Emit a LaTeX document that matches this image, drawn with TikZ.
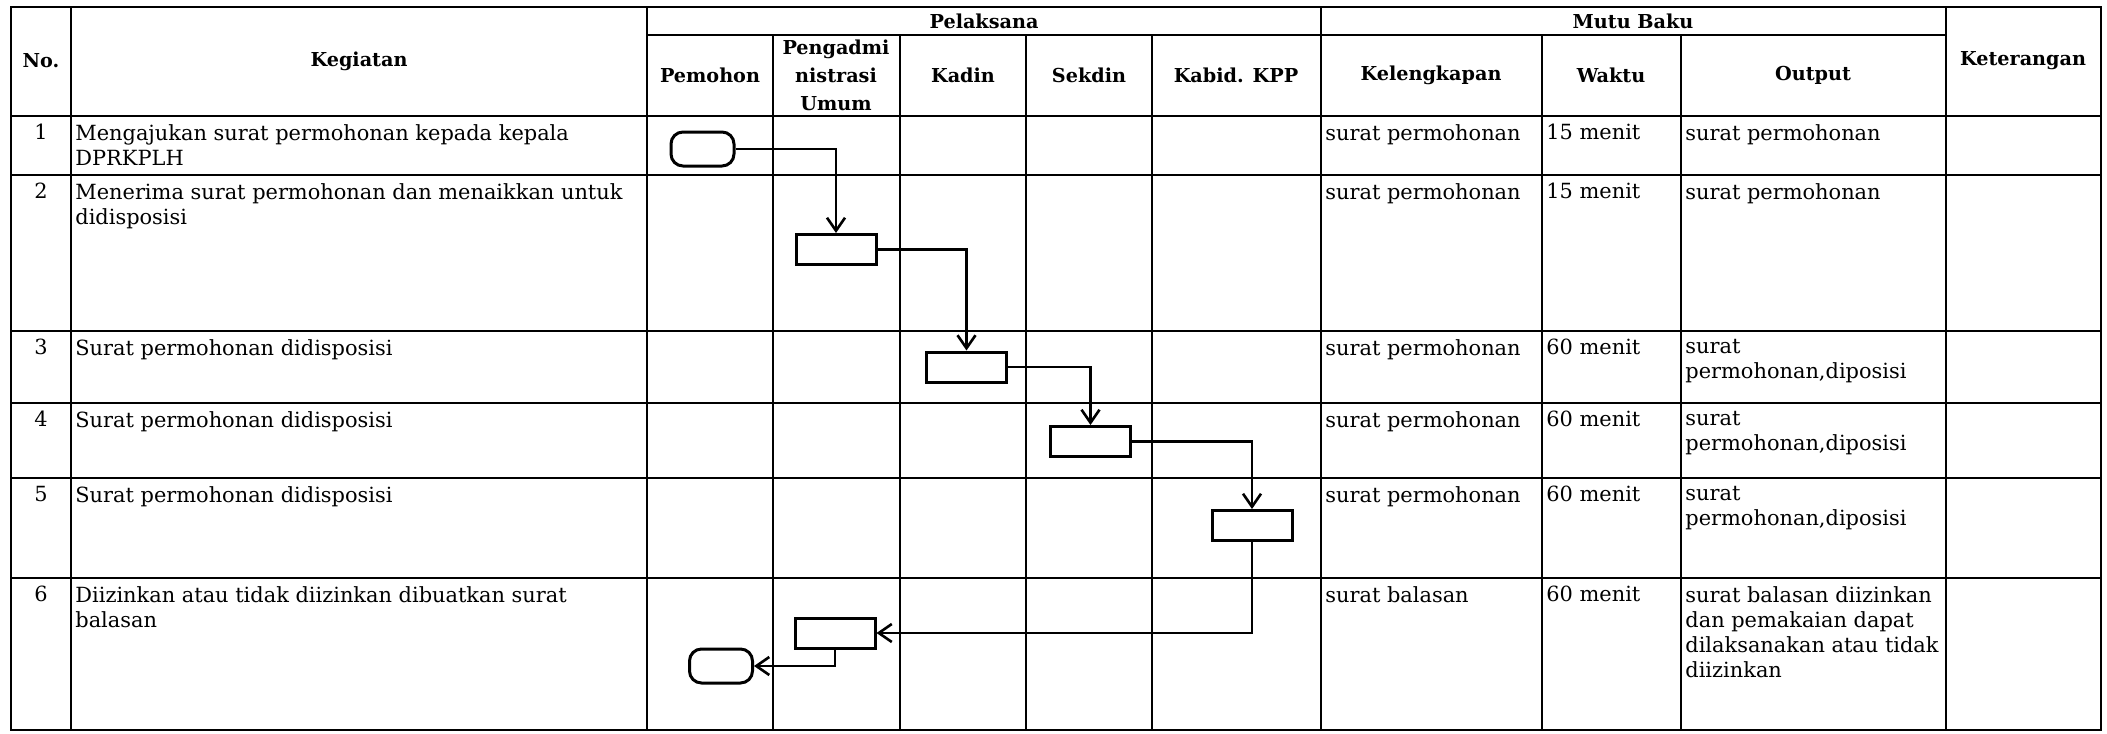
\documentclass[tikz,border=0pt]{standalone}
\usepackage{fontspec}
\setmainfont{DejaVu Serif}
\usetikzlibrary{arrows.meta}
\begin{document}
\begin{tikzpicture}[x=0.5pt,y=-0.5pt,
  grid/.style={line width=1.1pt},
  hd/.style={font=\bfseries\fontsize{9.6}{14}\selectfont, align=center, inner sep=0pt},
  tx/.style={font=\fontsize{10.45}{12.5}\selectfont, align=left, anchor=north west, inner sep=0pt},
  num/.style={font=\fontsize{10.45}{12.5}\selectfont, anchor=north, inner sep=0pt},
  proc/.style={draw, line width=1.5pt, minimum width=40pt, minimum height=15pt, inner sep=0pt},
  term/.style={draw, line width=1.5pt, rounded corners=6pt, minimum width=31.5pt, minimum height=17pt, inner sep=0pt},
  conn/.style={line width=1.3pt, -{Straight Barb[length=6.5pt,width=9pt]}}
]
\useasboundingbox (0,0) rectangle (2107,733);
\fill[white] (0,0) rectangle (2107,733);

% ---------- table grid ----------
\draw[grid] (11,7) rectangle (2101,730);
\draw[grid] (647,35) -- (1946,35);
\foreach \yy in {116,175,331,403,478,578}{\draw[grid] (11,\yy) -- (2101,\yy);}
\foreach \xx in {71,647,1321,1946}{\draw[grid] (\xx,7) -- (\xx,730);}
\foreach \xx in {773,900,1026,1152,1542,1681}{\draw[grid] (\xx,35) -- (\xx,730);}

% ---------- header ----------
\node[hd] (hno) at (41,61) {No.};
\node[hd] (hkeg) at (359,61) {Kegiatan};
\node[hd] (hpel) at (984,21) {Pelaksana};
\node[hd] (hmutu) at (1633,21) {Mutu Baku};
\node[hd] (hket) at (2023,61) {Keterangan};
\node[hd] (hpem) at (710,75) {Pemohon};
\node[hd] (hpeng) at (836,75) {Pengadmi\\nistrasi\\Umum};
\node[hd] (hkad) at (963,75) {Kadin};
\node[hd] (hsek) at (1089,75) {Sekdin};
\node[hd] (hkab) at (1236,75) {Kabid. KPP};
\node[hd] (hkel) at (1431,75) {Kelengkapan};
\node[hd] (hwak) at (1611,75) {Waktu};
\node[hd] (hout) at (1813,75) {Output};

% ---------- rows ----------
% row 1
\node[num] (n1) at (41,124) {1};
\node[tx] (k1) at (75,124) {Mengajukan surat permohonan kepada kepala\\DPRKPLH};
\node[tx] (l1) at (1325,124) {surat permohonan};
\node[tx] (w1) at (1546,124) {15 menit};
\node[tx] (o1) at (1685,124) {surat permohonan};
% row 2
\node[num] (n2) at (41,183) {2};
\node[tx] (k2) at (75,183) {Menerima surat permohonan dan menaikkan untuk\\didisposisi};
\node[tx] (l2) at (1325,183) {surat permohonan};
\node[tx] (w2) at (1546,183) {15 menit};
\node[tx] (o2) at (1685,183) {surat permohonan};
% row 3
\node[num] (n3) at (41,339) {3};
\node[tx] (k3) at (75,339) {Surat permohonan didisposisi};
\node[tx] (l3) at (1325,339) {surat permohonan};
\node[tx] (w3) at (1546,339) {60 menit};
\node[tx] (o3) at (1685,339) {surat\\permohonan,diposisi};
% row 4
\node[num] (n4) at (41,411) {4};
\node[tx] (k4) at (75,411) {Surat permohonan didisposisi};
\node[tx] (l4) at (1325,411) {surat permohonan};
\node[tx] (w4) at (1546,411) {60 menit};
\node[tx] (o4) at (1685,411) {surat\\permohonan,diposisi};
% row 5
\node[num] (n5) at (41,486) {5};
\node[tx] (k5) at (75,486) {Surat permohonan didisposisi};
\node[tx] (l5) at (1325,486) {surat permohonan};
\node[tx] (w5) at (1546,486) {60 menit};
\node[tx] (o5) at (1685,486) {surat\\permohonan,diposisi};
% row 6
\node[num] (n6) at (41,586) {6};
\node[tx] (k6) at (75,586) {Diizinkan atau tidak diizinkan dibuatkan surat\\balasan};
\node[tx] (l6) at (1325,586) {surat balasan};
\node[tx] (w6) at (1546,586) {60 menit};
\node[tx] (o6) at (1685,586) {surat balasan diizinkan\\dan pemakaian dapat\\dilaksanakan atau tidak\\diizinkan};

% ---------- flowchart ----------
\node[term] (start) at (702.5,149) {};
\node[proc] (b2) at (836,249.5) {};
\node[proc] (b3) at (966.5,367) {};
\node[proc] (b4) at (1090.5,441.5) {};
\node[proc] (b5) at (1252,525.5) {};
\node[proc] (b6) at (835,633) {};
\node[term] (stop) at (721,666) {};

\draw[conn] (start.east) -| (b2.north);
\draw[conn] (b2.east) -| (b3.north);
\draw[conn] (b3.east) -| (b4.north);
\draw[conn] (b4.east) -| (b5.north);
\draw[conn] (b5.south) |- (b6.east);
\draw[conn] (b6.south) |- (stop.east);
\end{tikzpicture}
\end{document}
